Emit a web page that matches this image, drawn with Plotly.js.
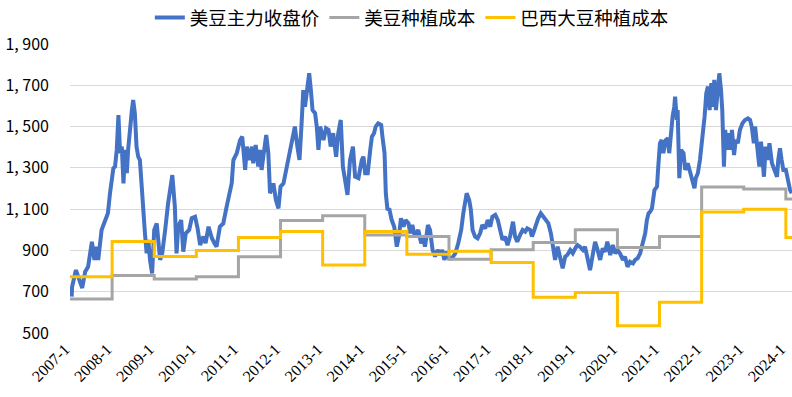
<!DOCTYPE html>
<html>
<head>
<meta charset="utf-8">
<script src="https://cdn.plot.ly/plotly-3.0.1.min.js"></script>
<style>html,body{margin:0;padding:0;background:#fff;}#chart{width:792px;height:397px;}</style>
</head>
<body>
<div id="chart"></div>
<script>
// Soybean main contract close (time in decimal years, value)
const priceT = [2007.04,2007.05,2007.14,2007.20,2007.29,2007.36,2007.43,2007.52,2007.58,2007.63,2007.67,2007.75,2007.83,2007.90,2007.95,
2008.03,2008.07,2008.11,2008.15,2008.19,2008.23,2008.27,2008.31,2008.35,2008.38,2008.43,2008.47,2008.50,2008.54,2008.58,2008.62,2008.66,2008.70,2008.74,2008.78,2008.82,2008.86,2008.90,2008.95,
2009.00,2009.06,2009.14,2009.19,2009.26,2009.33,2009.43,2009.49,2009.53,2009.57,2009.64,2009.69,2009.75,2009.83,2009.89,2009.97,
2010.03,2010.09,2010.17,2010.22,2010.29,2010.37,2010.43,2010.48,2010.56,2010.64,2010.72,2010.76,2010.80,2010.84,2010.88,2010.96,
2011.00,2011.04,2011.09,2011.16,2011.20,2011.26,2011.32,2011.35,2011.41,2011.47,2011.51,2011.55,2011.59,2011.66,2011.71,2011.75,2011.83,2011.89,2011.95,
2012.00,2012.07,2012.15,2012.23,2012.29,2012.34,2012.40,2012.45,2012.50,2012.54,2012.58,2012.62,2012.68,2012.72,2012.76,2012.82,2012.86,2012.90,2012.94,
2013.02,2013.08,2013.14,2013.19,2013.25,2013.32,2013.37,2013.43,2013.48,2013.53,2013.59,2013.65,2013.72,2013.77,2013.85,2013.93,2013.97,
2014.01,2014.07,2014.13,2014.17,2014.22,2014.26,2014.32,2014.39,2014.42,2014.47,2014.50,2014.54,2014.58,2014.64,2014.70,2014.76,2014.81,2014.86,2014.92,2014.97,
2015.04,2015.08,2015.13,2015.19,2015.27,2015.34,2015.39,2015.43,2015.50,2015.55,2015.61,2015.67,2015.73,2015.79,2015.84,2015.89,2015.95,
2016.00,2016.07,2016.15,2016.22,2016.29,2016.34,2016.38,2016.42,2016.48,2016.52,2016.56,2016.62,2016.68,2016.74,2016.79,2016.86,2016.92,2016.98,
2017.03,2017.10,2017.16,2017.21,2017.27,2017.33,2017.39,2017.45,2017.52,2017.57,2017.62,2017.69,2017.75,2017.81,2017.86,2017.93,2017.97,
2018.00,2018.07,2018.12,2018.18,2018.24,2018.31,2018.36,2018.42,2018.47,2018.52,2018.58,2018.64,2018.70,2018.76,2018.81,2018.88,2018.94,
2019.00,2019.05,2019.11,2019.18,2019.23,2019.29,2019.35,2019.42,2019.47,2019.53,2019.59,2019.65,2019.71,2019.76,2019.83,2019.89,2019.95,
2020.00,2020.06,2020.13,2020.18,2020.24,2020.30,2020.37,2020.42,2020.48,2020.54,2020.60,2020.66,2020.70,2020.74,2020.78,2020.82,2020.88,2020.94,2020.97,
2021.01,2021.05,2021.09,2021.15,2021.20,2021.23,2021.28,2021.31,2021.35,2021.37,2021.41,2021.43,2021.47,2021.51,2021.57,2021.61,2021.67,2021.73,2021.78,2021.83,2021.86,2021.91,2021.96,
2022.02,2022.07,2022.11,2022.15,2022.19,2022.23,2022.27,2022.30,2022.34,2022.39,2022.42,2022.46,2022.49,2022.53,2022.56,2022.60,2022.64,2022.68,2022.72,2022.77,2022.81,2022.86,2022.91,2022.97,
2023.03,2023.10,2023.15,2023.19,2023.24,2023.27,2023.32,2023.37,2023.41,2023.44,2023.48,2023.52,2023.57,2023.61,2023.67,2023.73,2023.79,2023.82,2023.86,2023.90,2023.94,
2024.00,2024.05,2024.10,2024.14];
const priceV = [676,724,805,773,718,797,821,942,854,918,854,999,1047,1080,1177,
1298,1306,1387,1556,1371,1403,1225,1387,1274,1387,1532,1580,1629,1565,1403,1354,1338,1193,1112,983,886,951,854,789,
999,1031,854,886,999,1128,1265,1112,886,1015,1047,894,983,999,1056,1063,
1007,926,967,935,1015,959,935,918,1015,1031,1112,1144,1193,1225,1338,1371,
1403,1435,1451,1290,1403,1338,1403,1322,1411,1306,1387,1290,1354,1459,1371,1177,1225,1144,1104,
1209,1225,1306,1403,1468,1500,1403,1338,1516,1677,1596,1677,1758,1677,1580,1565,1500,1387,1500,
1435,1492,1484,1403,1468,1354,1468,1532,1306,1241,1169,1338,1403,1257,1250,1338,1354,
1274,1274,1387,1451,1468,1500,1516,1508,1451,1371,1177,1096,1104,1047,1015,918,967,1056,1015,1047,
1031,983,1023,967,999,935,959,918,1023,999,902,870,902,878,902,854,894,
862,862,886,935,999,1080,1128,1177,1144,1096,999,967,959,983,1023,1007,1047,1015,
1063,1072,1047,999,951,967,926,967,1039,967,942,975,999,991,1007,999,967,
983,1031,1056,1080,1063,1047,1031,983,918,854,918,870,813,870,878,902,886,
910,926,918,902,918,862,805,886,942,902,854,910,894,942,878,926,886,
902,886,854,870,821,845,837,854,862,886,935,983,1047,1080,1088,1104,1193,1209,1306,
1419,1435,1371,1435,1443,1371,1500,1548,1596,1645,1532,1580,1250,1387,1371,1290,1322,1274,1241,1201,1250,1274,1338,
1435,1548,1661,1694,1580,1710,1596,1726,1580,1710,1758,1677,1580,1306,1484,1387,1468,1387,1484,1362,1435,1419,1484,1516,
1532,1540,1532,1500,1419,1500,1403,1306,1427,1354,1257,1403,1338,1419,1322,1290,1257,1338,1395,1338,1290,
1290,1241,1193,1177];

// Planting costs by year (step series)
const costYears = [2007,2008,2009,2010,2011,2012,2013,2014,2015,2016,2017,2018,2019,2020,2021,2022,2023,2024];
const usCost = [665,778,762,772,869,1045,1068,975,967,857,903,938,1000,914,967,1207,1197,1149];
const brCost = [773,943,870,900,963,992,830,992,882,896,842,673,696,535,649,1086,1100,963];

const seriesNames = ['美豆主力收盘价','美豆种植成本','巴西大豆种植成本'];
const xTickVals = [2007,2008,2009,2010,2011,2012,2013,2014,2015,2016,2017,2018,2019,2020,2021,2022,2023,2024];
const xTickText = ['2007-1','2008-1','2009-1','2010-1','2011-1','2012-1','2013-1','2014-1','2015-1','2016-1','2017-1','2018-1','2019-1','2020-1','2021-1','2022-1','2023-1','2024-1'];
const yTickVals = [500,700,900,1100,1300,1500,1700,1900];
const yTickText = ['500','700','900','1, 100','1, 300','1, 500','1, 700','1, 900'];

const xEnd = 2024.146;
const stepX = costYears.concat([xEnd]);
const usY = usCost.concat([usCost[usCost.length-1]]);
const brY = brCost.concat([brCost[brCost.length-1]]);

const traces = [
  {x: priceT, y: priceV, name: seriesNames[0], type: 'scatter', mode: 'lines',
   line: {color: '#4472C4', width: 4}},
  {x: stepX, y: usY, name: seriesNames[1], type: 'scatter', mode: 'lines',
   line: {color: '#A5A5A5', width: 3, shape: 'hv'}},
  {x: stepX, y: brY, name: seriesNames[2], type: 'scatter', mode: 'lines',
   line: {color: '#FFC000', width: 3, shape: 'hv'}}
];

const layout = {
  width: 792, height: 397,
  margin: {l: 70, r: 0, t: 44, b: 64, pad: 0},
  paper_bgcolor: '#ffffff', plot_bgcolor: '#ffffff',
  showlegend: true,
  legend: {orientation: 'h', xref: 'container', yref: 'container', x: 0.52, xanchor: 'center', y: 0.955, yanchor: 'middle',
    font: {family: 'Noto Sans CJK SC', size: 18.5, color: '#000'}, itemgap: 52, bgcolor: 'rgba(0,0,0,0)'},
  xaxis: {type: 'linear', range: [2007, xEnd], tickmode: 'array', tickvals: xTickVals, ticktext: xTickText,
    tickangle: -45, showgrid: false, zeroline: false, showline: false, ticks: '',
    ticklabeloverflow: 'allow', ticklabelstandoff: 3, ticklabelshift: -5,
    tickfont: {family: 'Liberation Serif', size: 16, color: '#000'}, fixedrange: true},
  yaxis: {range: [500, 1900], tickmode: 'array', tickvals: yTickVals, ticktext: yTickText,
    showgrid: true, gridcolor: '#D9D9D9', gridwidth: 1, zeroline: false, showline: false, ticks: '',
    ticklabelstandoff: 20,
    tickfont: {family: 'Noto Sans CJK SC', size: 16, color: '#000'}, fixedrange: true}
};

Plotly.newPlot('chart', traces, layout, {displayModeBar: false, staticPlot: true});
</script>
</body>
</html>
